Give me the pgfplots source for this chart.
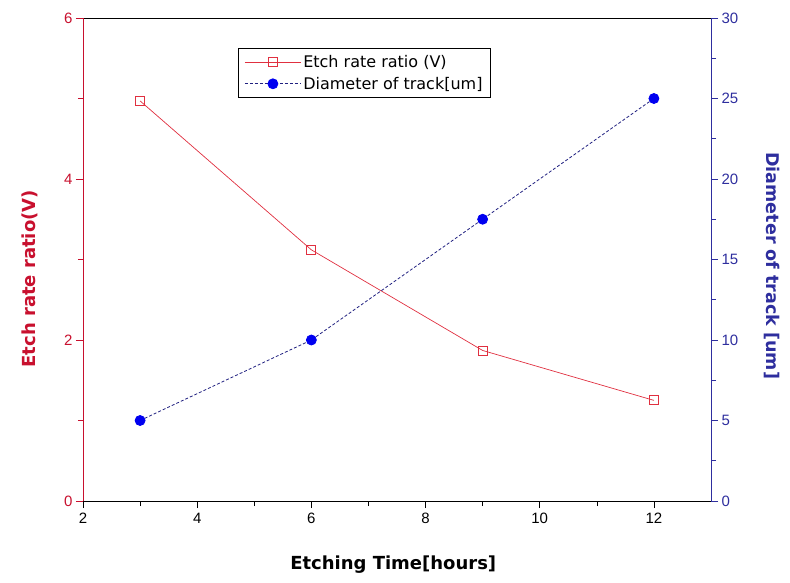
\documentclass[border=0pt]{standalone}
\usepackage{pgfplots}
\pgfplotsset{compat=1.18}
\usepackage{fontspec}
\setmainfont{Liberation Sans}
\newfontfamily\labfont{DejaVu Sans}
\definecolor{axred}{HTML}{C8102E}
\definecolor{linered}{HTML}{E03040}
\definecolor{axblue}{HTML}{2E2E9E}
\definecolor{lineblue}{HTML}{202080}
\definecolor{markblue}{HTML}{0000F0}
\begin{document}
\begin{tikzpicture}
\path[use as bounding box] (-83bp,-82bp) rectangle (707bp,501bp);
\begin{axis}[
  at={(0,0)}, anchor=south west, scale only axis,
  width=628bp, height=483bp,
  xmin=2, xmax=13, ymin=0, ymax=6,
  axis x line*=box, axis y line*=left,
  xtick={2,4,6,8,10,12}, ytick={0,2,4,6},
  minor x tick num=1, minor y tick num=1,
  xtick pos=bottom, ytick pos=left,
  tick align=outside,
  major tick length=7bp, minor tick length=5bp,
  x axis line style={black, line width=0.8bp},
  y axis line style={axred, line width=0.8bp},
  every x tick/.style={black, line width=0.6bp},
  every y tick/.style={axred, line width=0.6bp},
  ticklabel style={font=\fontsize{15bp}{17bp}\selectfont},
  xticklabel style={yshift=-2bp},
  yticklabel style={axred},
  /pgf/number format/assume math mode=true,
  xlabel={Etching Time[hours]},
  ylabel={Etch rate ratio(V)},
  every axis x label/.style={at={(axis description cs:0.494,-0.1325)}, anchor=center, font=\labfont\bfseries\fontsize{18bp}{20bp}\selectfont},
  every axis y label/.style={at={(axis description cs:-0.084,0.46)}, anchor=center, rotate=90, text=axred, font=\labfont\bfseries\fontsize{18bp}{20bp}\selectfont},
  legend style={at={(axis description cs:0.247,0.938)}, anchor=north west,
    draw=black, line width=0.8bp, font=\labfont\fontsize{16bp}{19bp}\selectfont,
    inner xsep=6bp, inner ysep=5bp, row sep=4bp},
  legend cell align=left,
  legend image code/.code={\draw[mark repeat=2,mark phase=2,#1] plot coordinates {(0bp,0bp) (28bp,0bp) (56bp,0bp)};},
]
\addplot[linered, line width=0.7bp, mark=square, mark size=4.5bp, mark options={solid, line width=0.8bp}]
  coordinates {(3,4.97) (6,3.12) (9,1.87) (12,1.25)};
\addlegendentry{Etch rate ratio (V)}
\addlegendimage{lineblue, line width=0.8bp, dash pattern=on 3bp off 2bp, mark=*, mark size=5bp, mark options={solid, markblue, draw=markblue}}
\addlegendentry{Diameter of track[um]}
\end{axis}
\begin{axis}[
  at={(0,0)}, anchor=south west, scale only axis,
  width=628bp, height=483bp,
  xmin=2, xmax=13, ymin=0, ymax=30,
  axis x line=none, axis y line*=right,
  ytick={0,5,10,15,20,25,30},
  minor y tick num=1,
  ytick pos=right,
  tick align=outside,
  major tick length=7bp, minor tick length=5bp,
  y axis line style={axblue, line width=0.8bp},
  every y tick/.style={axblue, line width=0.6bp},
  ticklabel style={font=\fontsize{15bp}{17bp}\selectfont},
  yticklabel style={axblue},
  /pgf/number format/assume math mode=true,
  ylabel={Diameter of track [um]},
  every axis y label/.style={at={(axis description cs:1.097,0.487)}, anchor=center, rotate=-90, text=axblue, font=\labfont\bfseries\fontsize{17.5bp}{20bp}\selectfont},
]
\addplot[lineblue, line width=0.8bp, dash pattern=on 3bp off 2bp, mark=*, mark size=5bp, mark options={solid, fill=markblue, draw=markblue}]
  coordinates {(3,5) (6,10) (9,17.5) (12,25)};
\end{axis}
\end{tikzpicture}
\end{document}
